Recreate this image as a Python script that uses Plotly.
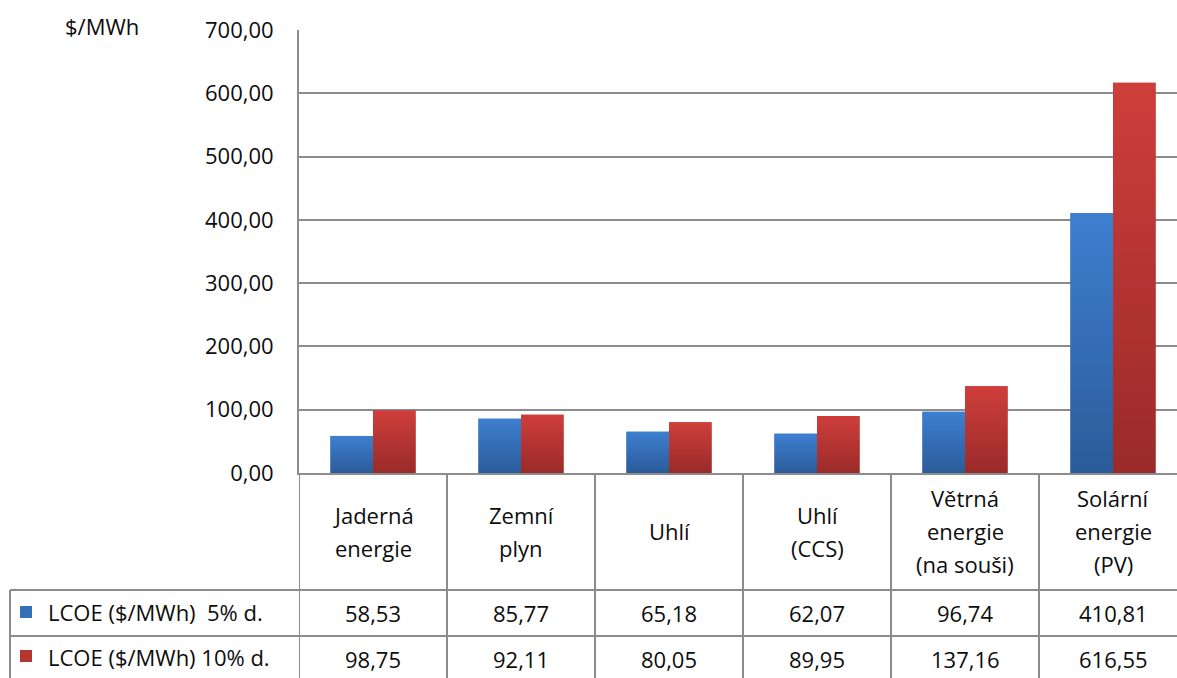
import base64
import struct
import zlib

import plotly.graph_objects as go

categories = ["Jaderná<br>energie", "Zemní<br>plyn", "Uhlí", "Uhlí<br>(CCS)",
              "Větrná<br>energie<br>(na souši)", "Solární<br>energie<br>(PV)"]
series_names = ["LCOE ($/MWh)  5% d.", "LCOE ($/MWh) 10% d."]
lcoe_5 = [58.53, 85.77, 65.18, 62.07, 96.74, 410.81]
lcoe_10 = [98.75, 92.11, 80.05, 89.95, 137.16, 616.55]
y_ticks = [0, 100, 200, 300, 400, 500, 600, 700]

W, H = 1177, 678
L, T, AX = 299, 30, 473
PW, PH = W - L, AX - T
FONT = "Open Sans"
FS = 22
GRID = "#8c8c8c"
BLUE = "#3470ba"
RED = "#b53533"
BLUE_GRAD = ((0x3e, 0x7f, 0xd0), (0x2b, 0x5c, 0x9a))
RED_GRAD = ((0xcf, 0x3e, 0x3b), (0x9a, 0x2b, 0x2a))
TXT = "#0d0d0d"
BARGAP = 0.425


def px(X):
    return (X - L) / PW


def py(Y):
    return (AX - Y) / PH


def fmt(v):
    return f"{v:.2f}".replace(".", ",")


def gradient_png(top, bottom, n=64):
    raw = b""
    for r in range(n):
        t = r / (n - 1)
        c = bytes(int(round(top[k] + (bottom[k] - top[k]) * t)) for k in range(3))
        raw += b"\x00" + c * 2

    def chunk(tag, data):
        return struct.pack(">I", len(data)) + tag + data + struct.pack(">I", zlib.crc32(tag + data) & 0xFFFFFFFF)

    png = b"\x89PNG\r\n\x1a\n" + chunk(b"IHDR", struct.pack(">IIBBBBB", 2, n, 8, 2, 0, 0, 0))
    png += chunk(b"IDAT", zlib.compress(raw)) + chunk(b"IEND", b"")
    return "data:image/png;base64," + base64.b64encode(png).decode()


idx = list(range(len(categories)))
fig = go.Figure()
fig.add_trace(go.Bar(x=idx, y=lcoe_5, name=series_names[0], marker=dict(color=BLUE, line=dict(width=0))))
fig.add_trace(go.Bar(x=idx, y=lcoe_10, name=series_names[1], marker=dict(color=RED, line=dict(width=0))))

xmax = -0.5 + PW / 148.0

fig.update_layout(
    width=W, height=H,
    margin=dict(l=L, r=0, t=T, b=H - AX, pad=0),
    paper_bgcolor="white", plot_bgcolor="white",
    barmode="group", bargap=BARGAP, bargroupgap=0,
    showlegend=False,
    separators=",.",
    font=dict(family=FONT, size=FS, color=TXT),
    xaxis=dict(range=[-0.5, xmax], showticklabels=False, ticks="", showgrid=False,
               showline=True, linecolor=GRID, linewidth=2, zeroline=False, fixedrange=True),
    yaxis=dict(range=[0, 700], tickvals=y_ticks, tickformat=".2f", ticks="",
               showgrid=True, gridcolor=GRID, gridwidth=2, showline=True, linecolor=GRID,
               linewidth=2, zeroline=False, ticklabelstandoff=19,
               tickfont=dict(family=FONT, size=FS, color=TXT), fixedrange=True),
)

# gradient fill over each bar (positions derived from data + bargap)
bw = (1 - BARGAP) / 2
blue_src = gradient_png(*BLUE_GRAD)
red_src = gradient_png(*RED_GRAD)
images = []
for i in idx:
    for off, vals, src in ((-bw, lcoe_5, blue_src), (0.0, lcoe_10, red_src)):
        images.append(dict(source=src, xref="x", yref="y", x=i + off, y=vals[i],
                           sizex=bw, sizey=vals[i], xanchor="left", yanchor="top",
                           sizing="stretch", layer="above"))

shapes = []
for Y in (590, 636):
    shapes.append(dict(type="line", xref="paper", yref="paper", x0=px(10), x1=1.0,
                       y0=py(Y), y1=py(Y), line=dict(color=GRID, width=2)))
shapes.append(dict(type="line", xref="paper", yref="paper", x0=px(10), x1=px(10),
                   y0=py(590), y1=py(H + 2), line=dict(color=GRID, width=2)))
for i in range(len(categories)):
    shapes.append(dict(type="line", xref="x", yref="paper", x0=i - 0.5, x1=i - 0.5,
                       y0=py(AX), y1=py(H + 2), line=dict(color=GRID, width=2)))
for Yc, col in ((612, BLUE), (656, RED)):
    shapes.append(dict(type="rect", xref="paper", yref="paper", x0=px(20), x1=px(32),
                       y0=py(Yc + 6), y1=py(Yc - 6), fillcolor=col, line=dict(width=0)))

ann = []
ann.append(dict(text="$/MWh", xref="paper", yref="paper", x=px(141), y=py(26),
                xanchor="right", yanchor="middle", showarrow=False))
LINE = 33
HDR_C = 531
for i, c in enumerate(categories):
    lines = c.split("<br>")
    n = len(lines)
    for k, ln in enumerate(lines):
        Y = HDR_C + (k - (n - 1) / 2) * LINE
        ann.append(dict(text=ln, xref="x", yref="paper", x=i, y=py(Y),
                        xanchor="center", yanchor="middle", showarrow=False))
for vals, Y in ((lcoe_5, 613), (lcoe_10, 659)):
    for i, v in enumerate(vals):
        ann.append(dict(text=fmt(v), xref="x", yref="paper", x=i, y=py(Y),
                        xanchor="center", yanchor="middle", showarrow=False))
for name, Y in zip(series_names, (612, 657)):
    ann.append(dict(text=name.replace("  ", "&nbsp; "), xref="paper", yref="paper", x=px(46), y=py(Y),
                    xanchor="left", yanchor="middle", showarrow=False))

fig.update_layout(shapes=shapes, annotations=ann, images=images)
fig.write_html("out.html", config={"displayModeBar": False},
               post_script="document.body.style.margin='0';document.body.style.overflow='hidden';")
